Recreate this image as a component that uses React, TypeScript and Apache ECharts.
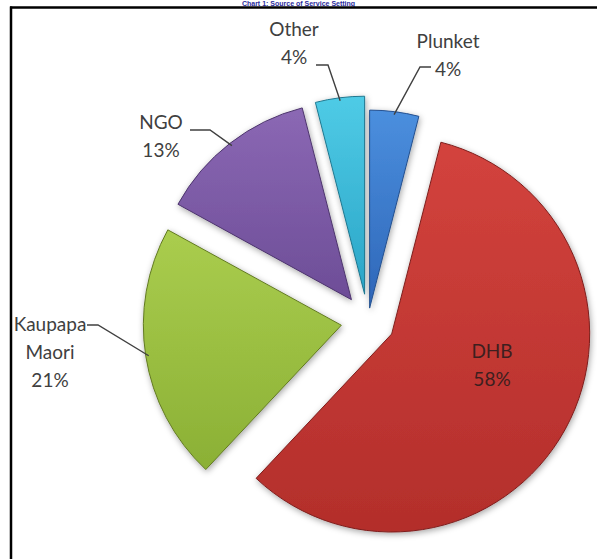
import { useEffect, useRef } from "react";
import * as echarts from "echarts";

// ---- data ----
const categories = ["Plunket", "DHB", "Kaupapa Maori", "NGO", "Other"];
const shares = [4, 58, 21, 13, 4];
const titleText = "Chart 1: Source of Service Setting";

// ---- styling / layout (kept apart from the data) ----
const sliceColors: [string, string, string][] = [
  ["#4b8fde", "#2e66b8", "#24508f"],
  ["#d3433d", "#b32e2b", "#7e1f1d"],
  ["#aacd4e", "#8bb035", "#627a22"],
  ["#8b68b4", "#6d4d97", "#4d356d"],
  ["#4fcbe6", "#2aa5c7", "#1f7890"],
];
const labelCentres: [number, number][] = [
  [448, 54],
  [492, 364],
  [50, 351],
  [161, 135],
  [294, 42],
];
const leaderEnds: ([number, number][] | null)[] = [
  [[420, 67], [431, 67]],
  null,
  [[98, 325], [87, 325]],
  [[210, 130], [190, 130]],
  [[328, 65], [316, 65]],
];
const CENTER: [number, number] = [368, 321];
const RADIUS = 198;
const BIG_OFFSET = 27;
const SMALL_OFFSET = 13;
const SMALL_OFFSET_INDEX = 0; // Plunket is exploded less

function buildData(visible: (i: number) => boolean) {
  return categories.map((name, i) => {
    const [c1, c2, c3] = sliceColors[i];
    const show = visible(i);
    return {
      name,
      value: shares[i],
      selected: true,
      itemStyle: show
        ? {
            color: new echarts.graphic.LinearGradient(0, 0, 0, 1, [
              { offset: 0, color: c1 },
              { offset: 1, color: c2 },
            ]),
            borderColor: c3,
            borderWidth: 1,
            shadowBlur: 6,
            shadowOffsetX: 1,
            shadowOffsetY: 2,
            shadowColor: "rgba(0,0,0,0.35)",
          }
        : { opacity: 0 },
    };
  });
}

function labelGraphics() {
  const total = shares.reduce((a, b) => a + b, 0);
  let cum = 0;
  const els: any[] = [];
  shares.forEach((v, i) => {
    const mid = ((cum + v / 2) / total) * Math.PI * 2;
    cum += v;
    const off = i === SMALL_OFFSET_INDEX ? SMALL_OFFSET : BIG_OFFSET;
    const dist = off + RADIUS - 3;
    const anchor = [
      CENTER[0] + dist * Math.sin(mid),
      CENTER[1] - dist * Math.cos(mid),
    ];
    const [x, y] = labelCentres[i];
    els.push({
      type: "text",
      x,
      y,
      z: 20,
      silent: true,
      style: {
        text: `${categories[i].replace(" ", "\n")}\n${v}%`,
        fontFamily: "Lato, 'Open Sans', sans-serif",
        fontSize: 19,
        lineHeight: 28,
        fill: i === 1 ? "#3d1f1f" : "#404040",
        align: "center",
        verticalAlign: "middle",
      },
    });
    const ends = leaderEnds[i];
    if (ends) {
      els.push({
        type: "polyline",
        z: 19,
        silent: true,
        shape: { points: [anchor, ends[0], ends[1]] },
        style: { stroke: "#404040", lineWidth: 1.4, fill: null },
      });
    }
  });
  return els;
}

const baseSeries = {
  type: "pie",
  center: CENTER,
  radius: RADIUS,
  startAngle: 90,
  clockwise: true,
  selectedMode: "multiple",
  emphasis: { disabled: true },
  label: { show: false },
  labelLine: { show: false },
};

export default function App() {
  const ref = useRef<HTMLDivElement>(null);
  useEffect(() => {
    if (!ref.current) return;
    const chart = echarts.init(ref.current, null, { renderer: "svg" });
    chart.setOption({
      animation: false,
      backgroundColor: "#ffffff",
      graphic: [
        {
          type: "text",
          left: "center",
          top: 0,
          style: {
            text: titleText,
            fontFamily: "Arial, 'Liberation Sans', sans-serif",
            fontWeight: "bold",
            fontSize: 7,
            fill: "#2a2a9c",
          },
          silent: true,
        },
        {
          type: "line",
          shape: { x1: 10, y1: 7.5, x2: 597, y2: 7.5 },
          style: { stroke: "#000000", lineWidth: 2.5 },
          silent: true,
        },
        {
          type: "line",
          shape: { x1: 11, y1: 6.5, x2: 11, y2: 559 },
          style: { stroke: "#000000", lineWidth: 2.5 },
          silent: true,
        },
        ...labelGraphics(),
      ],
      series: [
        {
          ...baseSeries,
          selectedOffset: BIG_OFFSET,
          data: buildData((i) => i !== SMALL_OFFSET_INDEX),
        },
        {
          ...baseSeries,
          selectedOffset: SMALL_OFFSET,
          data: buildData((i) => i === SMALL_OFFSET_INDEX),
        },
      ],
    });
    return () => chart.dispose();
  }, []);
  return (
    <div
      ref={ref}
      style={{ position: "absolute", left: 0, top: 0, width: 597, height: 559 }}
    />
  );
}
